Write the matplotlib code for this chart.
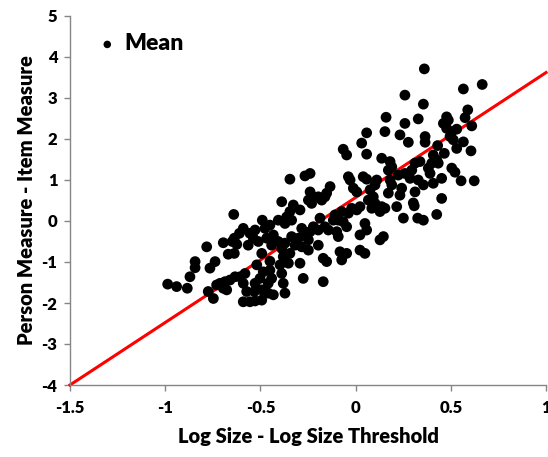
import matplotlib
matplotlib.use("Agg")
import matplotlib.pyplot as plt

# Data (Log Size - Log Size Threshold, Person Measure - Item Measure)
x_vals = [
    -0.64, -0.49, -0.59, -0.61, -0.637, -0.648, -0.695, -0.782, -0.624, -0.555,
    -0.528, -0.537, -0.564, -0.511, -0.476, -0.450, -0.467, -0.432, -0.441, -0.669,
    -0.637, -0.738, -0.765, -0.843, -0.843, -0.870, -0.493, -0.519, -0.485, -0.450,
    -0.441, -0.581, -0.607, -0.633, -0.660, -0.686, -0.712, -0.730, -0.695, -0.677,
    -0.774, -0.747, -0.987, -0.940, -0.884, -0.590, -0.572, -0.590, -0.555, -0.532,
    -0.528, -0.502, -0.493, -0.528, -0.493, -0.459, -0.432, -0.459, -0.450,
    0.058, 0.154, 0.032, -0.065, -0.047, 0.058, 0.137, 0.181, 0.190, 0.172,
    -0.239, -0.266, -0.345, -0.038, -0.029, 0.040, 0.058, 0.111, 0.102, 0.181,
    0.190, 0.172, -0.134, -0.152, -0.239, -0.248, -0.222, -0.196, -0.178, -0.161,
    -0.231, -0.012, 0.006, 0.076, 0.093, 0.067, 0.102, 0.085, 0.137, 0.154,
    0.128, -0.388, -0.327, -0.292, -0.345, -0.362, -0.406, -0.371, -0.336, -0.021,
    0.006, 0.023, -0.038, -0.073, -0.108, -0.117, -0.091, -0.065, -0.187, -0.047,
    0.049, 0.058, -0.283, -0.239, -0.222, -0.196, -0.161, -0.143, -0.099, -0.091,
    -0.336, -0.301, -0.266, -0.248, -0.318, -0.283, -0.248, -0.196, -0.371, -0.388,
    -0.406, -0.345, -0.380, -0.353, -0.292, -0.397, -0.388, -0.380, -0.371, -0.275,
    -0.170, -0.152, -0.170, -0.082, -0.047, -0.073, 0.023, 0.049, 0.023, 0.128,
    0.146,
    0.361, 0.665, 0.566, 0.259, 0.356, 0.589, 0.575, 0.478, 0.487, 0.461,
    0.329, 0.259, 0.610, 0.531, 0.505, 0.478, 0.496, 0.513, 0.566, 0.233,
    0.365, 0.365, 0.277, 0.431, 0.531, 0.606, 0.466, 0.408, 0.426, 0.434,
    0.400, 0.382, 0.391, 0.338, 0.312, 0.505, 0.522, 0.452, 0.408, 0.554,
    0.623, 0.295, 0.259, 0.224, 0.286, 0.329, 0.356, 0.312, 0.242, 0.233,
    0.452, 0.303,
    0.216, 0.308, 0.251, 0.326, 0.356, 0.426, 0.160,
]
y_vals = [
    0.16, 0.02, -0.18, -0.30, -0.42, -0.50, -0.53, -0.63, -0.57, -0.30,
    -0.22, -0.42, -0.59, -0.50, -0.18, -0.10, -0.42, -0.34, -0.59, -0.81,
    -0.79, -0.99, -1.15, -0.99, -1.14, -1.36, -0.79, -1.07, -1.24, -1.20,
    -1.40, -1.28, -1.36, -1.36, -1.44, -1.48, -1.52, -1.56, -1.64, -1.68,
    -1.72, -1.89, -1.54, -1.60, -1.64, -1.52, -1.72, -1.97, -1.97, -1.72,
    -1.52, -1.40, -1.68, -1.95, -1.93, -1.76, -1.80, -1.52, -0.98,
    2.15, 2.18, 1.90, 1.75, 1.61, 1.63, 1.53, 1.45, 1.32, 1.24,
    1.16, 1.10, 1.02, 1.08, 1.00, 1.08, 1.02, 1.00, 0.88, 1.00,
    0.88, 0.68, 0.84, 0.68, 0.71, 0.51, 0.59, 0.59, 0.51, 0.59,
    0.43, 0.80, 0.71, 0.76, 0.59, 0.51, 0.43, 0.31, 0.35, 0.31,
    0.23, 0.47, 0.39, 0.27, 0.23, 0.10, 0.02, -0.06, 0.02, 0.31,
    0.27, 0.35, 0.19, 0.23, 0.15, 0.02, 0.02, -0.02, 0.07, -0.14,
    -0.06, -0.22, -0.18, -0.26, -0.14, -0.22, -0.14, -0.22, -0.26, -0.38,
    -0.38, -0.42, -0.34, -0.46, -0.59, -0.63, -0.71, -0.59, -0.54, -0.67,
    -0.50, -0.79, -0.87, -1.03, -1.03, -1.07, -1.28, -1.52, -1.76, -1.40,
    -0.91, -0.99, -1.48, -0.75, -0.79, -0.95, -0.71, -0.79, -0.34, -0.46,
    -0.38,
    3.71, 3.33, 3.22, 3.07, 2.85, 2.71, 2.52, 2.54, 2.46, 2.38,
    2.49, 2.38, 2.32, 2.24, 2.18, 2.26, 2.06, 1.98, 1.93, 2.10,
    2.06, 1.92, 1.92, 1.84, 1.77, 1.71, 1.65, 1.61, 1.49, 1.41,
    1.41, 1.29, 1.16, 1.45, 1.41, 1.29, 1.19, 1.04, 0.92, 0.98,
    0.98, 1.24, 1.16, 1.12, 1.04, 1.00, 0.88, 0.71, 0.80, 0.63,
    0.55, 0.44,
    0.35, 0.37, 0.07, 0.07, 0.02, 0.16, 2.53,
]

# Fitted red line end points
line_x = [-1.5, 1.0]
line_y = [-4.0, 3.62]

x_ticks = [-1.5, -1.0, -0.5, 0.0, 0.5, 1.0]
x_tick_labels = ["-1.5", "-1", "-0.5", "0", "0.5", "1"]
y_ticks = [-4, -3, -2, -1, 0, 1, 2, 3, 4, 5]
y_tick_labels = ["-4", "-3", "-2", "-1", "0", "1", "2", "3", "4", "5"]

plt.rcParams['font.family'] = ['Lato', 'DejaVu Sans']
plt.rcParams['font.weight'] = 'heavy'

fig = plt.figure(figsize=(5.48, 4.57), dpi=100)
ax = fig.add_axes([70 / 548, 72 / 457, 476 / 548, 369 / 457])

ax.scatter(x_vals, y_vals, s=60, color='black', edgecolors='none',
           label='Mean', zorder=3, clip_on=False)
ax.plot(line_x, line_y, color='#ff0000', lw=2.2, zorder=2, clip_on=False)

ax.set_xlim(-1.5, 1.0)
ax.set_ylim(-4, 5)
ax.set_xticks(x_ticks)
ax.set_xticklabels(x_tick_labels)
ax.set_yticks(y_ticks)
ax.set_yticklabels(y_tick_labels)

for side in ['top', 'right']:
    ax.spines[side].set_visible(False)
for side in ['left', 'bottom']:
    ax.spines[side].set_color('#868686')
    ax.spines[side].set_linewidth(1.0)

ax.tick_params(axis='both', direction='out', length=4, width=1.0,
               color='#868686', labelsize=12, labelcolor='black')
ax.tick_params(axis='x', pad=7)
ax.tick_params(axis='y', pad=5)
for lab in ax.get_xticklabels() + ax.get_yticklabels():
    lab.set_fontweight('heavy')

ax.set_xlabel('Log Size - Log Size Threshold', fontsize=14.5, fontweight='heavy', labelpad=8)
ax.set_ylabel('Person Measure - Item Measure', fontsize=14.5, fontweight='heavy', labelpad=4)

leg = ax.legend(loc='upper left', bbox_to_anchor=(0.035, 0.99), frameon=False,
                handlelength=0.6, handletextpad=0.45, borderaxespad=0.2,
                prop={'size': 16.5, 'weight': 'heavy'}, markerscale=0.7)

fig.savefig('out.png', dpi=100, facecolor='white')
